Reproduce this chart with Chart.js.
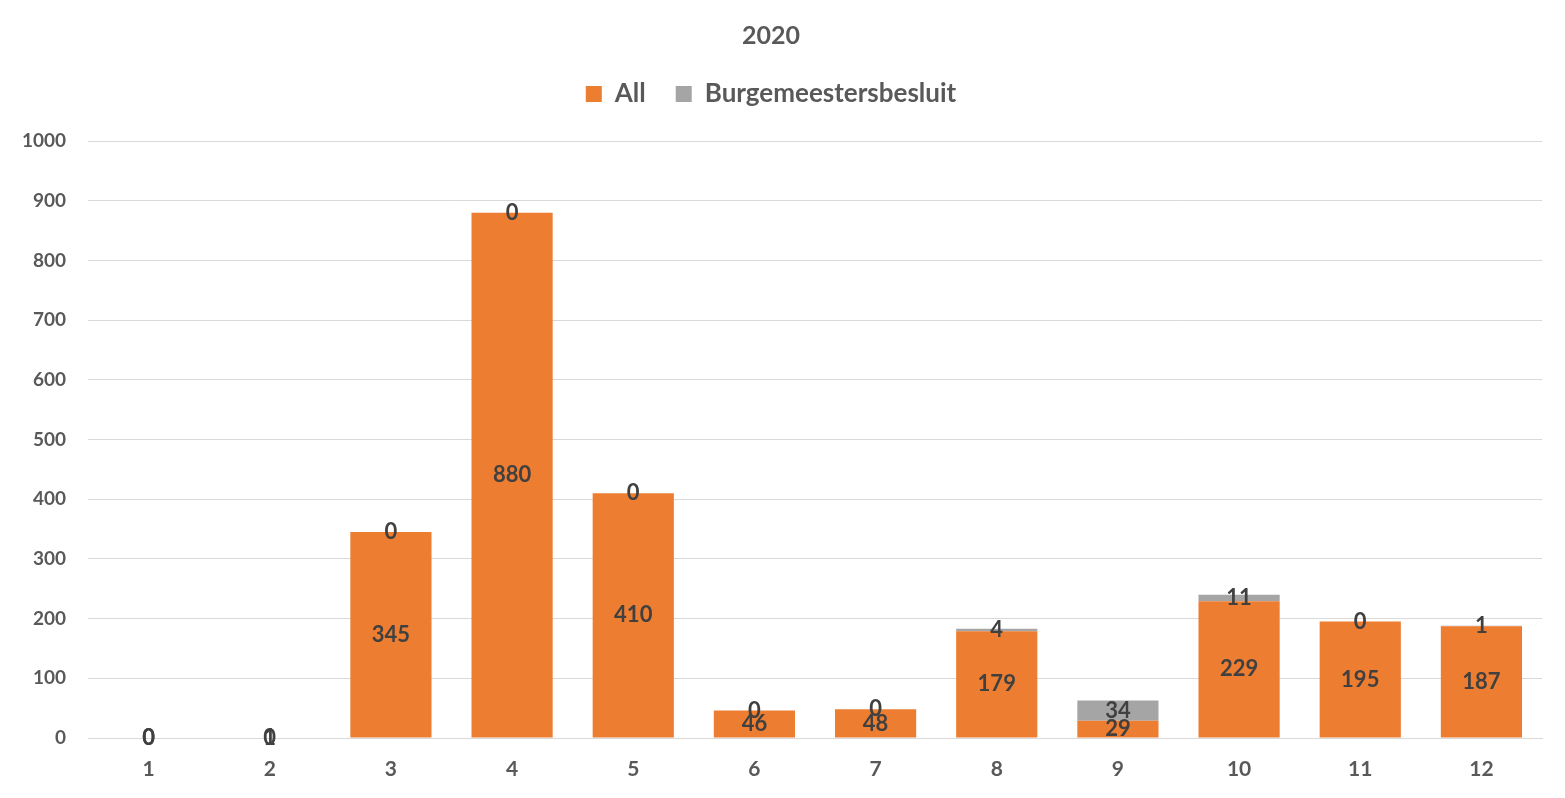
<html>
<head>
<script src="https://cdn.jsdelivr.net/npm/chart.js"></script>
<style>
  html, body { margin: 0; padding: 0; background: #fff; }
  #wrap { width: 1565px; height: 798px; }
</style>
</head>
<body>
<div id="wrap"><canvas id="chart"></canvas></div>
<script>
// data
var months = ['1', '2', '3', '4', '5', '6', '7', '8', '9', '10', '11', '12'];
var allValues = [0, 0, 345, 880, 410, 46, 48, 179, 29, 229, 195, 187];
var burgValues = [0, 1, 0, 0, 0, 0, 0, 4, 34, 11, 0, 1];

var fontName = 'Lato, "Open Sans", sans-serif';
var textGrey = '#595959';

// draws each value in the middle of its own segment, like Excel's "center" labels
var centerLabels = {
    id: 'centerLabels',
    afterDatasetsDraw: function(chart) {
        var ctx = chart.ctx;
        ctx.save();
        ctx.font = 'bold 22px ' + fontName;
        ctx.fillStyle = '#404040';
        ctx.textAlign = 'center';
        ctx.textBaseline = 'middle';
        chart.data.datasets.forEach(function(ds, i) {
            var meta = chart.getDatasetMeta(i);
            meta.data.forEach(function(bar, j) {
                var y = (bar.y + bar.base) / 2;
                ctx.fillText(ds.data[j], bar.x, y);
            });
        });
        ctx.restore();
    }
};

// extra room under the legend, so the plot starts lower
var legendGap = {
    id: 'legendGap',
    beforeInit: function(chart) {
        var fit = chart.legend.fit;
        chart.legend.fit = function() {
            fit.call(this);
            this.height += 24;
        };
    }
};

new Chart('chart', {
    type: 'bar',
    data: {
        labels: months,
        datasets: [
            { label: 'All', data: allValues, backgroundColor: '#ed7d31', barPercentage: 0.67, categoryPercentage: 1 },
            { label: 'Burgemeestersbesluit', data: burgValues, backgroundColor: '#a5a5a5', barPercentage: 0.67, categoryPercentage: 1 }
        ]
    },
    options: {
        responsive: true,
        maintainAspectRatio: false,
        animation: false,
        layout: { padding: { left: 0, right: 23, top: 0, bottom: 0 } },
        plugins: {
            title: {
                display: true,
                text: '2020',
                color: textGrey,
                font: { family: fontName, size: 25, weight: 'bold', lineHeight: 1 },
                padding: { top: 23, bottom: 3 }
            },
            legend: {
                labels: {
                    color: textGrey,
                    font: { family: fontName, size: 26, weight: 'bold' },
                    boxWidth: 16,
                    boxHeight: 16,
                    padding: 30
                }
            },
            tooltip: { enabled: false }
        },
        scales: {
            x: {
                stacked: true,
                grid: { display: false, drawTicks: false },
                border: { color: '#d9d9d9' },
                ticks: { color: textGrey, font: { family: fontName, size: 21, weight: 'bold' }, padding: 19 },
                afterFit: function(s) { s.height = 60; }
            },
            y: {
                stacked: true,
                min: 0,
                max: 1000,
                ticks: {
                    stepSize: 100,
                    color: textGrey,
                    font: { family: fontName, size: 19, weight: 'bold' },
                    padding: 22,
                    callback: function(v) { return String(v); }
                },
                grid: { color: '#d9d9d9', drawTicks: false },
                border: { display: false },
                afterFit: function(s) { s.width = 88; }
            }
        }
    },
    plugins: [centerLabels, legendGap]
});
</script>
</body>
</html>
